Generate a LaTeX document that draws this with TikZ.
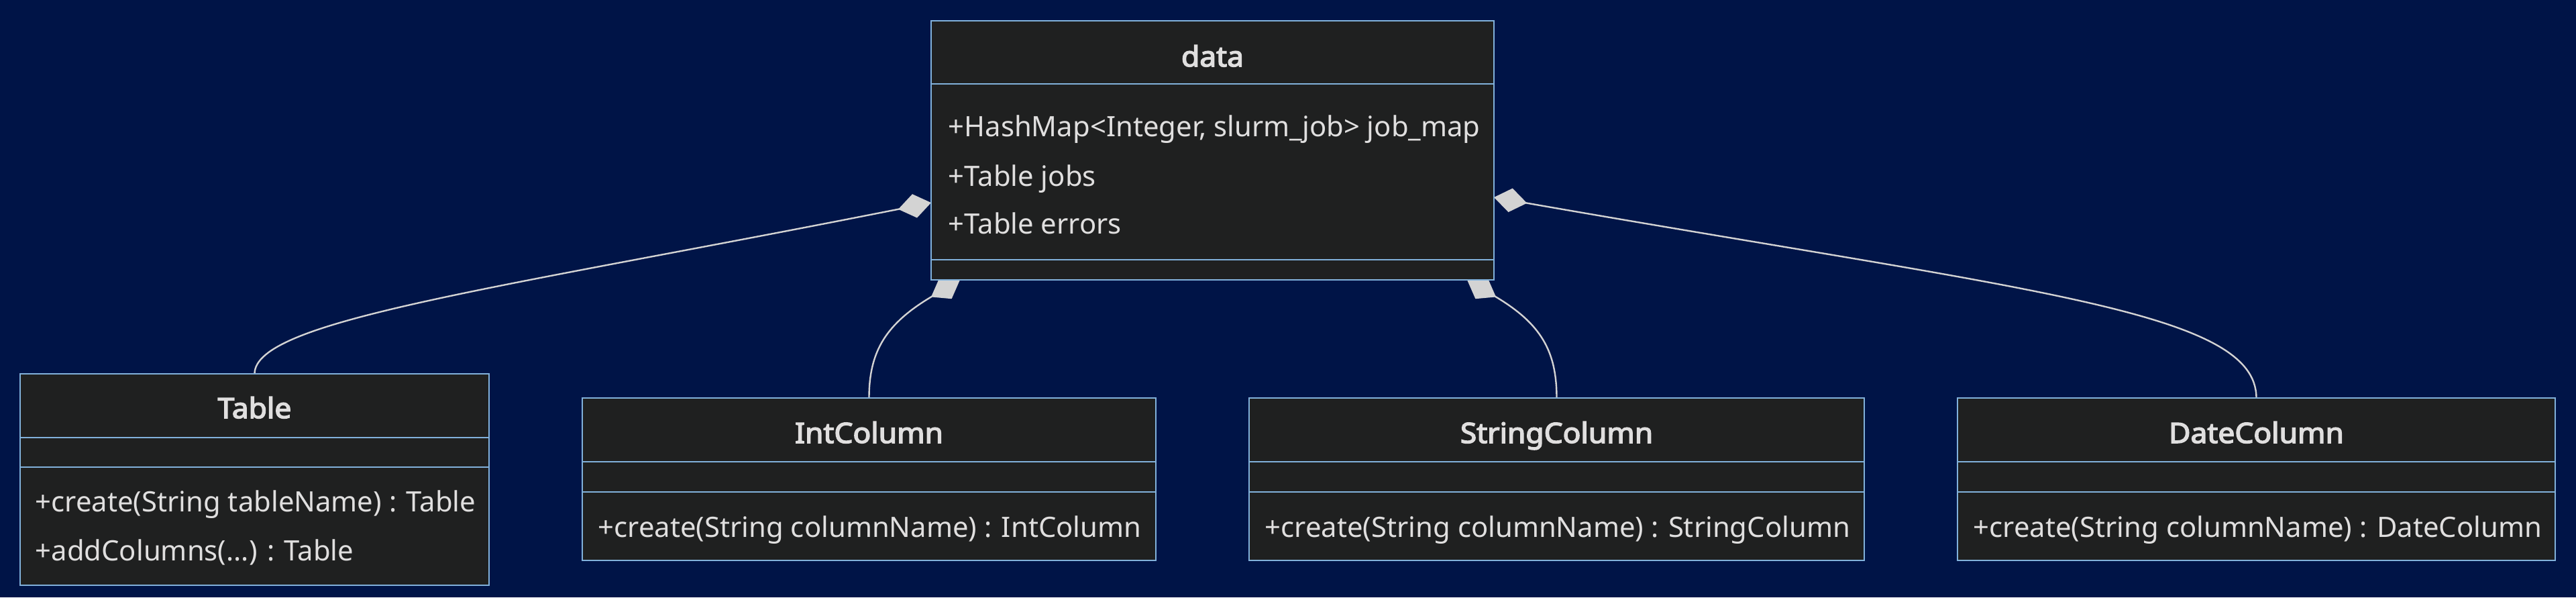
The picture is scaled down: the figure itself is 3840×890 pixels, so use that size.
\documentclass[tikz,border=0pt]{standalone}
\usepackage{fontspec}
\setmainfont{Noto Sans}
\newfontfamily\titlefont{Noto Sans}[FakeBold=3.6, FakeStretch=1.06]
\usetikzlibrary{arrows.meta}
\definecolor{bg}{HTML}{001447}
\definecolor{boxfill}{HTML}{1F2020}
\definecolor{boxline}{HTML}{81B1DB}
\definecolor{txt}{HTML}{E0DFDF}
\definecolor{conn}{HTML}{D3D3D3}
\begin{document}
\begin{tikzpicture}[x=0.1mm,y=-0.1mm,
  classbox/.style={draw=boxline, fill=boxfill, line width=0.28mm, inner sep=0pt, outer sep=0pt, anchor=north west},
  sep/.style={draw=boxline, line width=0.28mm},
  title/.style={text=txt, font=\fontsize{11.9pt}{14pt}\titlefont, anchor=base, inner sep=0pt},
  member/.style={text=txt, font=\fontsize{11.9pt}{14pt}\selectfont, anchor=base west, inner sep=0pt},
  comp/.style={draw=conn, line width=0.24mm, {Diamond[length=5mm,width=3.6mm,fill=conn]}-}
]
\fill[bg] (0,0) rectangle (3840,890);
\useasboundingbox (0,0) rectangle (3840,890);

% class boxes (positions)
\node[classbox, minimum width=83.9mm, minimum height=38.6mm] (data) at (1388,31) {};
\node[classbox, minimum width=69.9mm, minimum height=31.5mm] (Table) at (30,557) {};
\node[classbox, minimum width=85.5mm, minimum height=24.2mm] (IntColumn) at (868,593) {};
\node[classbox, minimum width=91.7mm, minimum height=24.2mm] (StringColumn) at (1862,593) {};
\node[classbox, minimum width=89.1mm, minimum height=24.2mm] (DateColumn) at (2918,593) {};

% connector attachment points on data
\coordinate (dL) at ([yshift=-27.1mm]data.north west);
\coordinate (dR) at ([yshift=-26.3mm]data.north east);
\coordinate (dBL) at ([xshift=4.3mm]data.south west);
\coordinate (dBR) at ([xshift=-4.0mm]data.south east);

% connectors
\draw[comp] (dL) .. controls +(-650,129) and +(0,-80) .. (Table.north);
\draw[comp] (dR) .. controls +(800,140) and +(0,-130) .. (DateColumn.north);
\draw[comp] (dBL) .. controls +(-110,65) and +(0,-70) .. (IntColumn.north);
\draw[comp] (dBR) .. controls +(110,65) and +(0,-70) .. (StringColumn.north);

% boxes again, on top of the connectors
\node[classbox, minimum width=83.9mm, minimum height=38.6mm] (dataB) at (1388,31) {};
\node[classbox, minimum width=69.9mm, minimum height=31.5mm] (TableB) at (30,557) {};
\node[classbox, minimum width=85.5mm, minimum height=24.2mm] (IntColumnB) at (868,593) {};
\node[classbox, minimum width=91.7mm, minimum height=24.2mm] (StringColumnB) at (1862,593) {};
\node[classbox, minimum width=89.1mm, minimum height=24.2mm] (DateColumnB) at (2918,593) {};

% compartment separators
\draw[sep] (1388,125) -- (2227,125);
\draw[sep] (1388,387) -- (2227,387);
\draw[sep] (30,652) -- (729,652);
\draw[sep] (30,696) -- (729,696);
\draw[sep] (868,688) -- (1723,688);
\draw[sep] (868,733) -- (1723,733);
\draw[sep] (1862,688) -- (2779,688);
\draw[sep] (1862,733) -- (2779,733);
\draw[sep] (2918,688) -- (3809,688);
\draw[sep] (2918,733) -- (3809,733);

% texts
\node[title] (tData) at (1807.5,99) {data};
\node[member] (mData1) at (1413,203) {+HashMap<Integer, slurm\_job> job\_map};
\node[member] (mData2) at (1413,277) {+Table jobs};
\node[member] (mData3) at (1413,348) {+Table errors};

\node[title] (tTable) at (379.5,623) {Table};
\node[member] (mTable1) at (52,762) {+create(String tableName) : Table};
\node[member] (mTable2) at (52,835) {+addColumns(...) : Table};

\node[title] (tInt) at (1295.5,660) {IntColumn};
\node[member] (mInt) at (891,800) {+create(String columnName) : IntColumn};

\node[title] (tString) at (2320.5,660) {StringColumn};
\node[member] (mString) at (1885,800) {+create(String columnName) : StringColumn};

\node[title] (tDate) at (3363.5,660) {DateColumn};
\node[member] (mDate) at (2941,800) {+create(String columnName) : DateColumn};
\end{tikzpicture}
\end{document}
